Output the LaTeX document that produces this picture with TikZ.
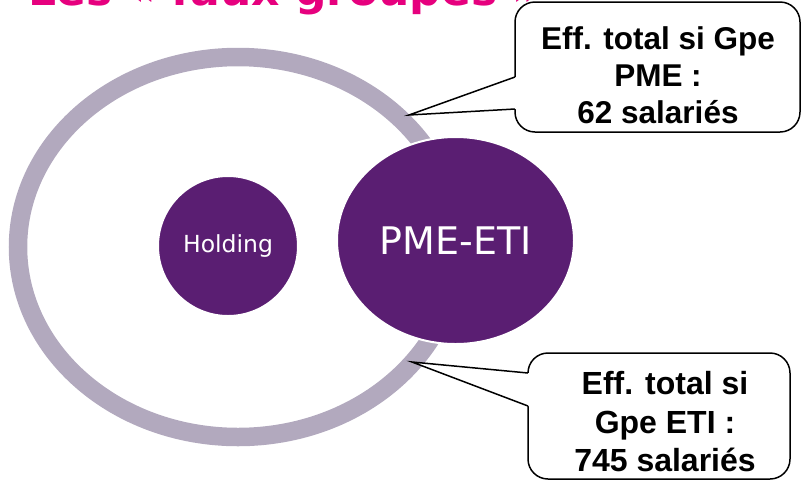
\documentclass[tikz,border=0pt]{standalone}
\usepackage{fontspec}
\setmainfont{Liberation Sans}
\newfontfamily\dejavu{DejaVu Sans}
\usetikzlibrary{shapes.geometric}
\definecolor{ringc}{RGB}{178,169,190}
\definecolor{purp}{RGB}{90,30,114}
\definecolor{pinkt}{RGB}{230,0,126}
\tikzset{
  bubble/.style={draw=black, line width=1.5pt, rounded corners=20pt, inner sep=0pt},
  bubbletext/.style={align=center, inner sep=0pt, font=\bfseries\fontsize{31.5}{37}\selectfont},
  pointer/.style={draw=black, line width=1.5pt, line join=miter},
  disc/.style={fill=purp, draw=white, line width=2pt, inner sep=0pt, text=white}
}
\begin{document}
\begin{tikzpicture}[x=1pt,y=-1pt]
\useasboundingbox (0,0) rectangle (802,483);
\clip (0,0) rectangle (802,483);
% title
\node[anchor=base west, text=pinkt, inner sep=0pt,
      font=\dejavu\bfseries\fontsize{44}{44}\selectfont] (title) at (28,5) {Les « faux groupes »};
% ring
\draw[ringc, line width=18.5pt] (238,247) ellipse [x radius=220pt, y radius=190pt];
% discs
\node[disc, circle, minimum size=140pt, font=\dejavu\fontsize{23.5}{23.5}\selectfont] (holding) at (228,246) {Holding};
\node[disc, ellipse, minimum width=237pt, minimum height=207pt, font=\dejavu\fontsize{38}{38}\selectfont] (pme) at (455.5,240.5) {PME-ETI};
% top callout
\node[bubble, minimum width=285pt, minimum height=130pt] (boxA) at (657.5,67) {};
\node[bubbletext] (textA) at (658,75) {Eff. total si Gpe\\PME :\\62 salariés};
\coordinate (tipA) at (409,115);
\coordinate (a1) at (515,77);
\coordinate (a2) at (515,109);
\fill[white] (a1) -- (tipA) -- (a2) -- ([xshift=3pt]a2) -- ([xshift=3pt]a1) -- cycle;
\draw[pointer] (a1) -- (tipA) -- (a2);
% bottom callout
\node[bubble, minimum width=262pt, minimum height=126pt] (boxB) at (659,416) {};
\node[bubbletext, font=\bfseries\fontsize{32}{38.5}\selectfont] (textB) at (665,422) {Eff. total si\\Gpe ETI :\\745 salariés};
\coordinate (tipB) at (412,362);
\coordinate (b1) at (528,373);
\coordinate (b2) at (528,406);
\fill[white] (b1) -- (tipB) -- (b2) -- ([xshift=3pt]b2) -- ([xshift=3pt]b1) -- cycle;
\draw[pointer] (b1) -- (tipB) -- (b2);
\end{tikzpicture}
\end{document}
